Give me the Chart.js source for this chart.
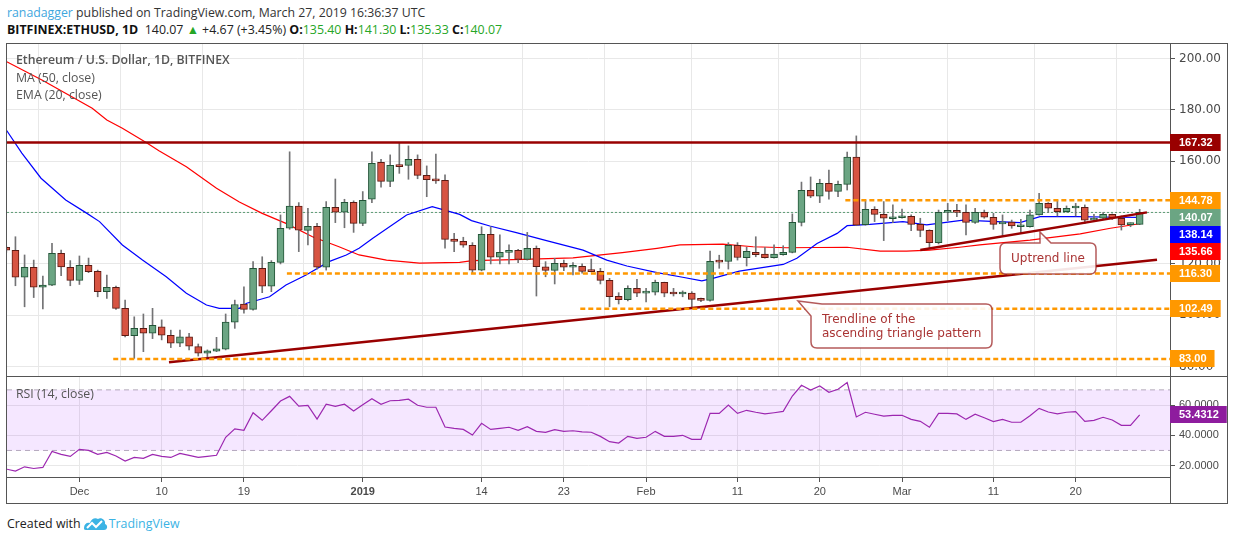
<!DOCTYPE html>
<html>
<head>
<meta charset="utf-8">
<script src="https://cdn.jsdelivr.net/npm/chart.js@4.4.1/dist/chart.umd.min.js"></script>
<style>
  body { margin: 0; background: #fff; width: 1234px; height: 541px; overflow: hidden; position: relative; font-family: "Open Sans", sans-serif; }
  .abs { position: absolute; }
  #h1 { left: 7px; top: 4px; font-size: 12.3px; color: #333; white-space: nowrap; }
  #h1 .user { color: #3fa7de; }
  #h2 { left: 7px; top: 21px; font-size: 12.4px; color: #222; white-space: nowrap; }
  #h2 b { font-weight: 700; color: #111; }
  #h2 .g { color: #26a626; }
  #frame { left: 6px; top: 43px; width: 1222px; height: 461px; border: 1px solid #555; box-sizing: border-box; }
  #sep { left: 7px; top: 376px; width: 1220px; height: 1px; background: #555; }
  #axisv { left: 1170px; top: 477px; width: 1px; height: 26px; background: #555; }
  #main { left: 7px; top: 44px; }
  #rsi { left: 7px; top: 377px; }
  .leg { left: 16px; font-size: 12.3px; color: #555; white-space: nowrap; }
  #t1 { top: 51px; font-weight: 600; }
  #t2 { top: 69px; }
  #t3 { top: 86px; }
  #t4 { top: 385px; }
  #foot { left: 7px; top: 515px; font-size: 12.4px; color: #222; white-space: nowrap; }
  #foot .tv { color: #3bb3e4; }
  #foot svg { vertical-align: -3px; margin: 0 1px 0 2px; }
</style>
</head>
<body>
<div id="h1" class="abs"><span class="user">ranadagger</span> published on TradingView.com, March 27, 2019 16:36:37 UTC</div>
<div id="h2" class="abs"><b>BITFINEX:ETHUSD, 1D</b>&nbsp; 140.07 <span class="g">&#9650;</span> +4.67 (+3.45%) <b>O:</b><span class="g">135.40</span> <b>H:</b><span class="g">141.30</span> <b>L:</b><span class="g">135.33</span> <b>C:</b><span class="g">140.07</span></div>

<div id="frame" class="abs"></div>
<canvas id="main" class="abs" width="1220" height="332"></canvas>
<div id="sep" class="abs"></div>
<canvas id="rsi" class="abs" width="1220" height="126"></canvas>
<div id="axisv" class="abs"></div>

<div id="t1" class="abs leg">Ethereum / U.S. Dollar, 1D, BITFINEX</div>
<div id="t2" class="abs leg">MA (50, close)</div>
<div id="t3" class="abs leg">EMA (20, close)</div>
<div id="t4" class="abs leg">RSI (14, close)</div>

<div id="foot" class="abs">Created with<svg width="25" height="16" viewBox="0 0 25 16"><path d="M1,13 C1,9 4,7 7,8 C8,4 12,2 15,4 C18,2 23,5 22,9 C25,10 25,15 21,15 L3,15 C1,15 1,14 1,13 Z" fill="#3bb3e4"/><path d="M4,13 L9,8 L13,12 L19,6" stroke="#fff" stroke-width="2" fill="none"/></svg><span class="tv">TradingView</span></div>

<script>
// daily candles, Nov 23 2018 (day 0) .. Mar 27 2019 (day 124)
const open = [
  126.5,125.3,114.8,118.7,110.9,111.7,124.1,118.7,
  113.6,119.5,117.1,109.2,110.9,102.7,92.0,94.9,93.0,95.5,
  92.2,89.1,91.6,87.8,85.2,86.0,86.8,97.3,104.4,102.3,
  118.3,111.3,120.6,133.9,142.5,133.1,134.7,118.7,142.1,140.2,144.0,
  135.8,145.2,159.6,152.2,158.6,158.4,160.8,154.5,153.1,152.6,
  129.7,128.8,127.3,117.6,131.5,122.6,124.5,125.3,121.8,126.1,
  118.9,117.5,120.2,118.7,119.1,117.4,117.1,113.6,107.4,106.1,110.5,
  108.6,109.0,112.8,108.7,108.3,108.6,106.3,105.8,121.3,121.0,
  127.3,122.4,124.5,123.8,122.4,123.6,124.5,136.2,148.7,146.4,
  151.4,148.3,151.0,161.6,135.3,141.3,139.3,137.6,
  138.0,138.6,135.4,133.1,128.3,140.1,140.6,140.1,136.2,140.1,
  138.2,135.6,136.3,134.5,134.5,139.1,143.6,141.7,140.4,141.8,
  142.1,137.1,137.8,139.3,137.8,135.3,135.40
];
const high = [
  127.0,130.6,123.5,121.5,115.3,128.0,125.4,121.3,
  123.1,122.3,117.6,115.7,111.4,105.9,99.4,100.5,102.7,98.2,
  94.2,94.2,93.0,88.8,86.5,91.4,100.5,105.9,111.1,120.9,
  122.8,121.3,139.1,163.7,143.9,141.7,135.8,144.3,153.1,145.2,144.6,
  148.2,163.7,160.8,162.5,167.3,166.0,162.5,158.2,162.8,154.7,
  131.9,130.4,128.3,134.5,134.5,131.3,127.4,125.7,132.3,127.0,
  120.9,122.2,121.5,120.5,120.0,121.9,118.3,114.4,108.8,111.5,114.0,
  110.5,113.7,112.9,110.5,109.5,109.2,106.7,125.0,123.4,128.3,
  128.3,126.5,130.6,126.5,127.4,127.1,139.5,151.9,153.9,153.0,
  156.6,152.3,163.6,169.9,144.9,142.3,144.3,143.0,
  141.4,139.1,137.8,133.3,141.0,143.6,143.2,143.0,141.7,141.0,
  139.7,139.1,137.1,137.4,141.0,147.5,143.9,144.9,142.6,143.6,
  143.0,139.3,140.0,139.5,138.7,136.0,141.30
];
const low = [
  124.5,111.5,103.3,106.9,102.5,111.5,115.4,111.5,
  112.0,116.6,107.2,106.6,102.3,91.6,83.2,85.8,90.9,90.4,
  87.4,87.8,86.5,84.1,83.6,85.8,86.5,94.9,100.8,102.0,
  108.8,109.2,120.0,133.5,124.8,127.4,118.0,117.6,136.1,134.1,132.3,
  134.9,143.9,149.9,150.1,155.3,153.0,153.2,146.2,151.4,126.1,
  124.8,126.5,116.4,117.3,120.0,120.0,120.0,120.5,121.5,107.5,
  115.0,112.2,117.4,115.7,116.4,116.9,112.2,103.3,104.4,105.6,107.2,
  105.2,107.9,107.2,107.5,107.2,103.1,105.3,105.5,118.3,118.0,
  121.5,119.2,122.8,122.2,122.2,123.4,124.3,134.8,145.8,143.9,
  145.2,146.2,148.8,134.9,135.1,136.5,129.1,136.1,
  137.8,133.0,130.6,126.0,127.8,136.9,138.4,131.3,135.8,137.8,
  133.5,130.9,133.9,131.9,134.3,139.0,140.1,138.7,140.2,138.7,
  135.8,137.0,137.4,137.3,133.2,134.5,135.33
];
const close = [
  125.4,114.8,118.7,110.9,111.8,124.1,118.8,113.6,
  119.5,117.0,109.2,110.9,102.7,92.0,94.9,93.0,96.1,92.2,
  89.1,91.6,88.0,85.2,86.1,86.9,97.3,104.2,102.3,118.3,
  111.3,120.6,133.9,142.5,133.2,134.7,118.7,142.1,140.2,144.0,135.8,
  144.8,159.2,152.2,158.4,157.9,160.8,154.5,152.8,152.4,129.6,
  128.8,127.3,117.6,131.5,122.6,124.5,125.3,121.8,126.1,118.9,
  117.5,120.2,118.7,119.1,117.1,117.0,113.6,107.2,106.1,110.5,108.6,
  109.0,112.8,108.6,108.3,108.7,106.2,105.8,121.0,120.7,127.3,
  122.5,124.9,123.6,122.4,123.8,124.5,136.2,148.7,146.4,151.4,
  148.3,151.0,161.6,135.1,141.3,139.3,137.8,138.2,
  138.6,135.4,133.1,128.3,140.1,140.6,140.1,136.2,140.1,138.2,
  135.4,136.3,134.8,134.9,139.1,143.6,141.7,140.4,141.7,142.3,
  137.1,137.8,139.3,138.0,135.2,135.7,140.07
];
const rsi = [
  17.7,16.4,19.2,18.1,18.8,29.4,27.4,26.1,
  30.7,30.0,27.4,28.7,26.3,23.0,25.4,24.8,27.4,26.1,
  25.4,28.1,26.8,25.4,26.1,26.8,38.7,44.3,43.3,54.9,
  49.9,56.2,62.6,65.7,59.3,59.8,50.7,60.5,59.1,60.5,56.0,
  60.2,64.2,60.5,62.8,63.1,63.8,59.8,58.5,58.5,45.5,
  44.6,43.9,40.2,47.9,43.9,44.6,45.3,43.3,45.7,42.6,
  41.9,43.7,42.6,43.0,42.2,42.0,39.3,35.8,34.9,39.3,38.0,
  38.7,42.6,39.3,39.3,40.0,37.3,37.3,54.5,54.5,60.0,
  54.5,56.5,55.2,54.1,54.9,55.8,65.9,73.0,69.9,72.6,
  68.4,70.4,74.8,52.1,55.2,53.9,52.7,53.2,
  53.2,50.5,49.2,45.3,54.5,54.5,54.1,50.5,53.9,51.6,
  49.0,50.5,48.6,48.6,52.9,57.8,55.4,54.1,55.2,55.6,
  49.2,49.9,51.9,50.1,46.6,46.6,53.4312
];

// indicator lines (day, value)
const maDays = [0,4,9.4,11,12.7,15.3,16.7,19.7,23,25.5,28,30.6,33.5,36.4,38.6,41.6,45.2,49.6,51,56.5,62,67.4,71.2,73.7,78.4,81.7,85.4,92,95.6,98.5,101,104.3,106.5,112,117.5,120.8,124];
const maValues = [198.9,191.5,180.7,176.1,172.9,167.3,164.1,157.9,149.5,144.1,139.7,135.8,130.6,126.7,123.5,121.5,120.3,120.6,121.3,121.8,122.4,124.4,126.1,127.4,127.7,126.7,126.3,126.5,125.0,125.0,125.4,126.5,127.4,129.3,131.7,133.9,135.66];
const emaDays = [0,1.7,3.8,6.5,8.7,10.2,12.7,14.9,17.5,19.7,21.9,23.3,25.5,26.3,28.8,30.6,32.8,35.3,37.2,38.6,40.1,43.8,46.6,49.6,50.9,52.9,55.8,59.1,63.1,65.7,67.9,71.2,74,76.1,77.3,80.2,85,86.5,88.7,90.9,92,94.5,98.1,100.7,104.7,108.4,110.9,113.1,117.2,121.5,124];
const emaValues = [172.2,163.2,153.4,144.9,140.0,136.5,127.4,121.5,115.0,108.6,104.0,102.7,102.7,104.7,107.2,111.8,115.7,120.9,123.5,126.1,130.0,139.1,142.3,139.3,136.9,134.8,132.2,129.1,125.4,121.5,119.2,116.6,114.8,113.4,114.4,117.2,119.8,122.2,128.0,131.9,134.9,135.4,136.5,135.2,137.1,136.5,136.1,138.4,138.4,138.2,138.14];

// drawn levels and trendlines
const levelValues = [167.32, 144.78, 116.30, 102.49, 83.00];
const levelStart = [0, 91.8, 30.7, 62.8, 11.7];
const trendDays = [17.8, 125.9];
const trendValues = [81.7, 121.6];
const upDays = [100, 124.8];
const upValues = [125.4, 140.1];
const lastPrice = 140.07;

// price scale tags on the right axis
const tagValues = [167.32, 144.78, 140.07, 138.14, 135.66, 116.30, 102.49, 83.00];
const tagColors = ['#990000', '#ff9800', '#6ba583', '#0000ff', '#ff0000', '#ff9800', '#ff9800', '#ff9800'];
const rsiTag = [53.4312];

// date axis
const tickDays = [8, 17, 26, 39, 52, 61, 70, 80, 89, 98, 108, 117];
const tickLabels = ['Dec', '10', '19', '2019', '14', '23', 'Feb', '11', '20', 'Mar', '11', '20'];

const xMin = 0.077, xMax = 127.32;
const UP = '#6ba583', DOWN = '#d75442', UP_B = '#225437', DOWN_B = '#5b1a13';

const bodies = open.map((o, i) => ({ x: i, y: [o, close[i]] }));
const wicks = low.map((l, i) => ({ x: i, y: [l, high[i]] }));
const isUp = close.map((c, i) => c >= open[i]);
const pts = (xs, ys) => xs.map((x, i) => ({ x: x, y: ys[i] }));
const flat = (v, a, b) => [{ x: a, y: v }, { x: b, y: v }];

function lineSet(data, color, width, dash) {
  return { type: 'line', data: data, borderColor: color, borderWidth: width, borderDash: dash || [],
           pointRadius: 0, fill: false, tension: 0 };
}

const levelSets = levelValues.map((v, k) =>
  k === 0 ? lineSet(flat(v, xMin, xMax), '#990000', 2.5)
          : lineSet(flat(v, levelStart[k], xMax), '#ff9800', 2.5, [5, 3]));

const tagPlugin = {
  id: 'tags',
  afterDraw(chart, args, opts) {
    const ctx = chart.ctx, y = chart.scales.y, area = chart.chartArea;
    const items = opts.values.map((v, k) => ({ v: v, bg: opts.colors[k], py: y.getPixelForValue(v) }))
                             .sort((a, b) => a.py - b.py);
    let prev = -1e9;
    ctx.save();
    ctx.font = 'bold 11px "Liberation Sans", Arial, sans-serif';
    ctx.textBaseline = 'middle';
    items.forEach(it => {
      const cy = Math.max(it.py, prev + 17);
      prev = cy;
      const txt = it.v.toFixed(opts.digits);
      const w = ctx.measureText(txt).width + 17;
      ctx.fillStyle = it.bg;
      ctx.fillRect(area.right, Math.round(cy - 8.5), w, 17);
      ctx.fillStyle = '#fff';
      ctx.fillText(txt, area.right + 9, cy + 0.5);
    });
    ctx.restore();
  }
};

function callout(ctx, box, tail, lines, align) {
  const [x0, y0, x1, y1] = box, r = 6;
  ctx.save();
  ctx.beginPath();
  if (tail.side === 'top') {
    ctx.moveTo(x0 + r, y0);
    ctx.lineTo(tail.a, y0); ctx.lineTo(tail.tx, tail.ty); ctx.lineTo(tail.b, y0);
    ctx.lineTo(x1 - r, y0); ctx.quadraticCurveTo(x1, y0, x1, y0 + r);
    ctx.lineTo(x1, y1 - r); ctx.quadraticCurveTo(x1, y1, x1 - r, y1);
    ctx.lineTo(x0 + r, y1); ctx.quadraticCurveTo(x0, y1, x0, y1 - r);
    ctx.lineTo(x0, y0 + r); ctx.quadraticCurveTo(x0, y0, x0 + r, y0);
  } else {
    ctx.moveTo(tail.a, y0);
    ctx.lineTo(x1 - r, y0); ctx.quadraticCurveTo(x1, y0, x1, y0 + r);
    ctx.lineTo(x1, y1 - r); ctx.quadraticCurveTo(x1, y1, x1 - r, y1);
    ctx.lineTo(x0 + r, y1); ctx.quadraticCurveTo(x0, y1, x0, y1 - r);
    ctx.lineTo(x0, tail.b); ctx.lineTo(tail.tx, tail.ty); ctx.lineTo(tail.a, y0);
  }
  ctx.closePath();
  ctx.fillStyle = 'rgba(255,255,255,0.9)';
  ctx.fill();
  ctx.strokeStyle = 'rgba(155,35,35,0.75)';
  ctx.lineWidth = 1.5;
  ctx.stroke();
  ctx.fillStyle = '#a93434';
  ctx.font = '12px "DejaVu Sans", sans-serif';
  ctx.textBaseline = 'middle';
  ctx.textAlign = align;
  lines.forEach(l => ctx.fillText(l.t, l.x, l.y));
  ctx.restore();
}

const calloutPlugin = {
  id: 'callouts',
  afterDatasetsDraw(chart) {
    const ctx = chart.ctx;
    // canvas sits at (7,44) of the page
    callout(ctx, [993, 199, 1089, 230], { side: 'top', a: 1033, b: 1044, tx: 1033, ty: 188 },
            [{ t: 'Uptrend line', x: 1041, y: 214.5 }], 'center');
    callout(ctx, [804, 260, 985, 304], { side: 'corner', a: 815, b: 272, tx: 791, ty: 257 },
            [{ t: 'Trendline of the', x: 815, y: 275.5 }, { t: 'ascending triangle pattern', x: 815, y: 289.5 }], 'left');
  }
};

const gridColor = '#e8e8e8';
const axisFont = { family: '"DejaVu Sans", sans-serif', size: 12 };

new Chart(document.getElementById('main'), {
  type: 'bar',
  data: {
    datasets: [
      ...levelSets,
      lineSet(pts(trendDays, trendValues), '#990000', 2.5),
      lineSet(pts(upDays, upValues), '#990000', 2.5),
      { type: 'bar', data: bodies, grouped: false, barThickness: 7, minBarLength: 2,
        backgroundColor: isUp.map(u => u ? UP : DOWN), borderColor: isUp.map(u => u ? UP_B : DOWN_B),
        borderWidth: 1, borderSkipped: false },
      { type: 'bar', data: wicks, grouped: false, barThickness: 1, backgroundColor: '#737375', borderWidth: 0 },
      lineSet(pts(emaDays, emaValues), '#0000ff', 1.2),
      lineSet(pts(maDays, maValues), '#ff0000', 1.2),
      lineSet(flat(lastPrice, xMin, xMax), '#5c9c74', 1, [2, 2])
    ]
  },
  options: {
    responsive: false,
    animation: false,
    layout: { padding: 0 },
    plugins: {
      legend: { display: false },
      tooltip: { enabled: false },
      tags: { values: tagValues, colors: tagColors, digits: 2 }
    },
    scales: {
      x: {
        type: 'linear', min: xMin, max: xMax, offset: false,
        grid: { color: gridColor, drawTicks: false },
        border: { display: false },
        ticks: { display: false },
        afterBuildTicks: s => { s.ticks = tickDays.map(v => ({ value: v })); },
        afterFit: s => { s.height = 0; s.paddingLeft = 0; s.paddingRight = 0; }
      },
      y: {
        position: 'right', min: 76.33, max: 205.71,
        ticks: { stepSize: 20, includeBounds: false, padding: 4, color: '#4a4a4a', font: axisFont,
                 callback: v => v.toFixed(2) },
        grid: { color: gridColor, tickColor: '#555', tickLength: 5 },
        border: { display: true, color: '#555' },
        afterFit: s => { s.width = 57; s.paddingTop = 0; s.paddingBottom = 0; }
      }
    }
  },
  plugins: [calloutPlugin, tagPlugin]
});

new Chart(document.getElementById('rsi'), {
  type: 'line',
  data: {
    datasets: [
      lineSet(pts(rsi.map((v, i) => i), rsi), '#9c27b0', 1.2),
      Object.assign(lineSet(flat(70, xMin, xMax), 'rgba(120,110,130,0.55)', 1, [5, 4]),
                    { fill: '+1', backgroundColor: 'rgba(153,21,255,0.1)' }),
      lineSet(flat(30, xMin, xMax), 'rgba(120,110,130,0.55)', 1, [5, 4])
    ]
  },
  options: {
    responsive: false,
    animation: false,
    layout: { padding: 0 },
    plugins: {
      legend: { display: false },
      tooltip: { enabled: false },
      tags: { values: rsiTag, colors: ['#8e1c9e'], digits: 4 }
    },
    scales: {
      x: {
        type: 'linear', min: xMin, max: xMax, offset: false,
        grid: { color: gridColor, tickColor: '#555', tickLength: 5 },
        border: { display: true, color: '#555' },
        ticks: {
          padding: 3, maxRotation: 0, autoSkip: false, color: '#4a4a4a',
          font: c => ({ family: '"Liberation Sans", Arial, sans-serif', size: 11,
                        weight: tickLabels[c.index] === '2019' ? 'bold' : 'normal' }),
          callback: (v, i) => tickLabels[i]
        },
        afterBuildTicks: s => { s.ticks = tickDays.map(v => ({ value: v })); },
        afterFit: s => { s.height = 26; s.paddingLeft = 0; s.paddingRight = 0; }
      },
      y: {
        position: 'right', min: 12.48, max: 78.48,
        ticks: { stepSize: 20, includeBounds: false, padding: 4, color: '#4a4a4a',
                 font: { family: '"Liberation Sans", Arial, sans-serif', size: 11 },
                 callback: v => v.toFixed(4) },
        grid: { color: gridColor, tickColor: '#555', tickLength: 5 },
        border: { display: true, color: '#555' },
        afterFit: s => { s.width = 57; s.paddingTop = 0; s.paddingBottom = 0; }
      }
    }
  },
  plugins: [tagPlugin]
});
</script>
</body>
</html>
